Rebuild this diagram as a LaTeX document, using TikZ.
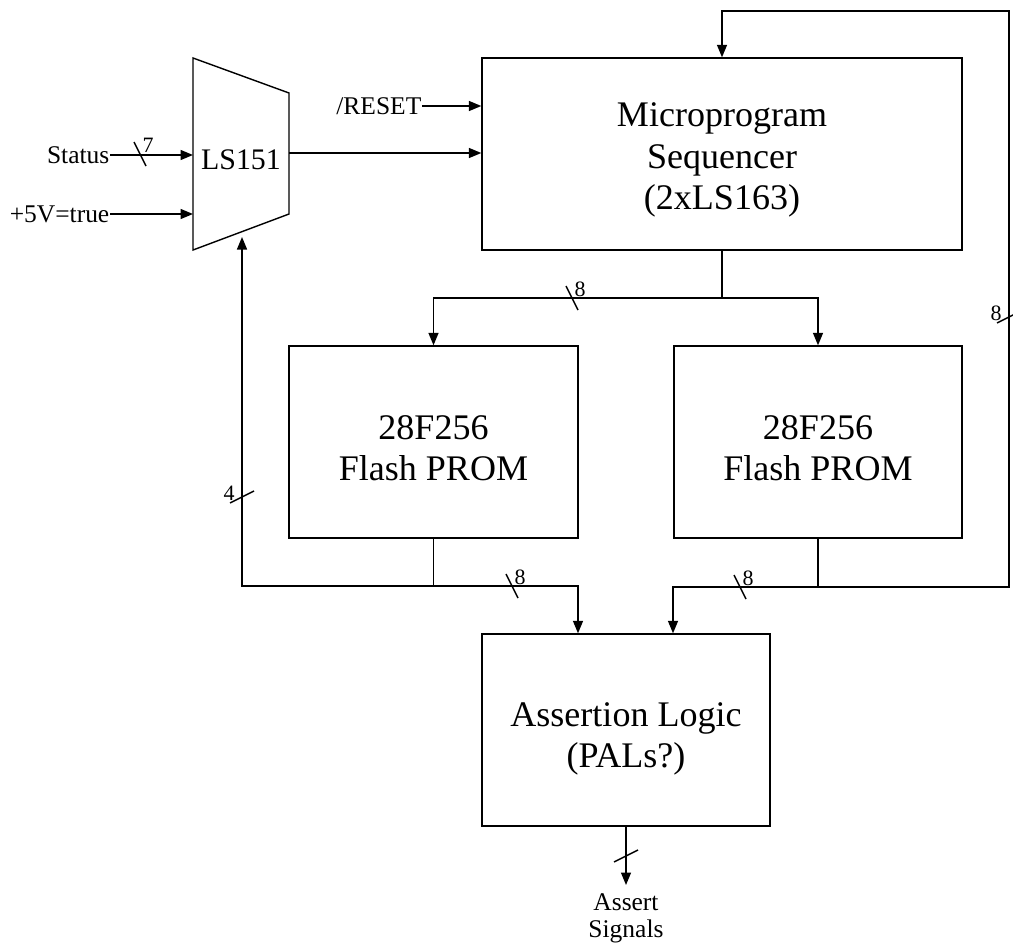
\documentclass[tikz,border=0pt]{standalone}
\usepackage{fontspec}
\setmainfont{Liberation Serif}
\usetikzlibrary{arrows.meta}

\tikzset{
  blk/.style = {draw, minimum height=3.84cm, inner sep=0pt},
  blktxt/.style = {align=center, inner sep=0pt, font=\fontsize{20.5}{23.5}\selectfont},
  sig/.style = {inner sep=0pt, font=\fontsize{14.5}{15.5}\selectfont},
  buslbl/.style = {inner sep=0pt, font=\fontsize{12.5}{13}\selectfont},
}

\begin{document}
\begin{tikzpicture}[x=0.02cm, y=-0.02cm, line width=0.8pt, >={Triangle[length=2.5mm,width=2mm]}]
\useasboundingbox (0,0) rectangle (1013,946);

% multiplexer
\draw (193,58) -- (289,93) -- (289,214) -- (193,250) -- cycle;
\node (mux) at (241,160) [inner sep=0pt, font=\fontsize{17}{19}\selectfont] {LS151};
\coordinate (muxl) at (193,154);
\coordinate (muxr) at (289,153);
\coordinate (muxb) at (242,237);

% blocks
\node (seq) at (722,154) [blk, minimum width=9.6cm] {};
\node (proml) at (433.5,442) [blk, minimum width=5.78cm] {};
\node (promr) at (818,442) [blk, minimum width=5.76cm] {};
\node (assert) at (626,730) [blk, minimum width=5.76cm] {};
\node (seqt) at (722,160) [blktxt] {Microprogram\\Sequencer\\(2xLS163)};
\node (promlt) at (433.5,448) [blktxt] {28F256\\Flash PROM};
\node (promrt) at (818,448) [blktxt] {28F256\\Flash PROM};
\node (assertt) at (626,739) [blktxt] {Assertion Logic\\(PALs?)};

% signal names
\node (status) at (110,155) [sig, anchor=east] {Status};
\node (vcc) at (110,214) [sig, anchor=east] {+5V=true};
\node (reset) at (422,106) [sig, anchor=east] {/RESET};
\node (out) at (626,885) [sig, anchor=north, align=center, inner ysep=0.16cm] {Assert\\Signals};

% inputs
\draw[->] (status.east) -- (status.east -| muxl);
\draw[->] (vcc.east) -- (vcc.east -| muxl);
\draw[->] (reset.east) -- (reset.east -| seq.west);
\draw[->] (muxr) -- (muxr -| seq.west);

% sequencer to PROMs
\coordinate (js) at (722,298);
\draw (seq.south) -- (js);
\draw[->] (js) -| (proml.north);
\draw[->] (js) -| (promr.north);

% left PROM outputs
\coordinate (jl) at (433.5,586);
\coordinate (dl) at (578,586);
\coordinate (ul) at (242,586);
\draw (proml.south) -- (jl);
\draw[->] (jl) -- (ul) -- (muxb);
\draw[->] (jl) -- (dl) -- (dl |- assert.north);

% right PROM outputs, feedback
\coordinate (jr) at (818,587);
\coordinate (dr) at (673,587);
\coordinate (fb) at (1009,587);
\coordinate (ft) at (1009,11);
\draw (promr.south) -- (jr);
\draw[->] (jr) -- (dr) -- (dr |- assert.north);
\draw[->] (jr) -- (fb) -- (ft) -- (ft -| seq.north) -- (seq.north);

% output
\draw[->] (assert.south) -- (out.north);

% bus widths
\foreach \x/\y/\w [count=\i] in {140/154/7, 572/298/8, 512/586/8, 740/587/8}{
  \draw (\x-6,\y-12) -- (\x+6,\y+12);
  \node (bh\i) at (\x+8,\y-9) [buslbl] {\w};
}
\foreach \x/\y/\w [count=\i] in {242/497/4, 1009/317/8}{
  \draw (\x-12,\y+6) -- (\x+12,\y-6);
  \node (bv\i) at (\x-13,\y-4) [buslbl] {\w};
}
\draw (614,862) -- (638,850);
\end{tikzpicture}
\end{document}
